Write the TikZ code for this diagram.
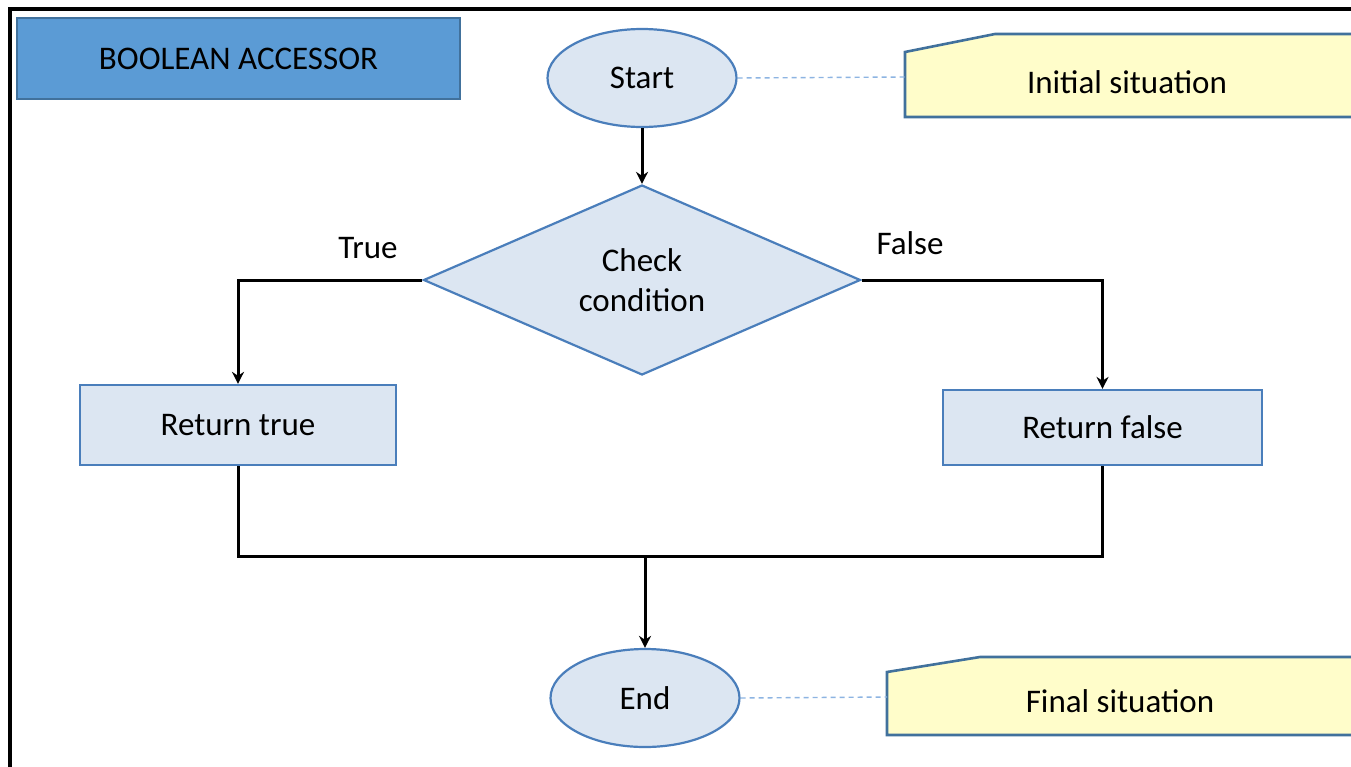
\documentclass[tikz,border=0pt]{standalone}
\usepackage{fontspec}
\setmainfont{Carlito}
\usetikzlibrary{shapes.geometric,arrows.meta}
\definecolor{titlefill}{HTML}{5B9BD5}
\definecolor{titledraw}{HTML}{41719C}
\definecolor{shapefill}{HTML}{DCE6F2}
\definecolor{shapedraw}{HTML}{4A7EBB}
\definecolor{notefill}{HTML}{FFFDCA}
\definecolor{notedraw}{HTML}{41719C}
\definecolor{dashcol}{HTML}{8DB4E2}
\tikzset{
  txt/.style={font=\fontsize{33}{40}\selectfont, text=black},
  term/.style={ellipse, draw=shapedraw, line width=2.2pt, fill=shapefill, minimum width=189pt, minimum height=98pt, inner sep=0pt, txt},
  procbox/.style={rectangle, draw=shapedraw, line width=2.2pt, fill=shapefill, inner sep=0pt, txt},
  decision/.style={diamond, draw=shapedraw, line width=2.2pt, fill=shapefill, minimum width=437pt, minimum height=190pt, aspect=2.3, inner sep=0pt, align=center, txt},
  flow/.style={line width=3pt, black},
  flowarrow/.style={flow, -{Stealth[length=12pt,width=12pt]}},
  notelink/.style={draw=dashcol, line width=1.4pt, dash pattern=on 5pt off 4pt},
  notebox/.style={draw=notedraw, line width=2.6pt, fill=notefill},
  lbl/.style={font=\fontsize{33}{36}\selectfont, text=black}
}
\begin{document}
\begin{tikzpicture}[x=1pt,y=-1pt]
\useasboundingbox (0,0) rectangle (1351,766);
\fill[white] (0,0) rectangle (1351,766);
% outer border
\draw[black, line width=4.5pt] (10,790) -- (10,9) -- (1380,9);
% title
\node[draw=titledraw, line width=2.2pt, fill=titlefill, minimum width=443pt, minimum height=81pt, inner sep=0pt, font=\fontsize{33}{36}\selectfont] (title) at (238.5,58.5) {BOOLEAN ACCESSOR};
% notes
\draw[notebox] (905,117) -- (905,52) -- (995,34) -- (1370,34) -- (1370,117) -- cycle;
\node[txt, inner sep=0pt] (initial) at (1127,82) {Initial situation};
\coordinate (initl) at (905,77);
\draw[notebox] (887,735) -- (887,672) -- (980,657) -- (1370,657) -- (1370,735) -- cycle;
\node[txt, inner sep=0pt] (final) at (1120,701) {Final situation};
\coordinate (finl) at (887,697);
% shapes
\node[term] (start) at (642,78) {Start};
\node[decision] (check) at (642,280) {Check\\condition};
\node[procbox, minimum width=316pt, minimum height=80pt] (rtrue) at (238,425) {Return true};
\node[procbox, minimum width=319pt, minimum height=75pt] (rfalse) at (1102.5,427.5) {Return false};
\node[term] (end) at (645,698) {End};
% labels
\node[lbl] (tl) at (368,248) {True};
\node[lbl] (fl) at (910,243) {False};
% connectors
\draw[notelink] (start.east) -- (initl);
\draw[notelink] (end.east) -- (finl);
\draw[flowarrow] (start.south) -- (check.north);
\draw[flowarrow] (check.west) -| (rtrue.north);
\draw[flowarrow] (check.east) -| (rfalse.north);
\coordinate (join) at (645,556);
\draw[flow] (rtrue.south) |- (join) -| (rfalse.south);
\draw[flowarrow] (join) -- (end.north);
\end{tikzpicture}
\end{document}
